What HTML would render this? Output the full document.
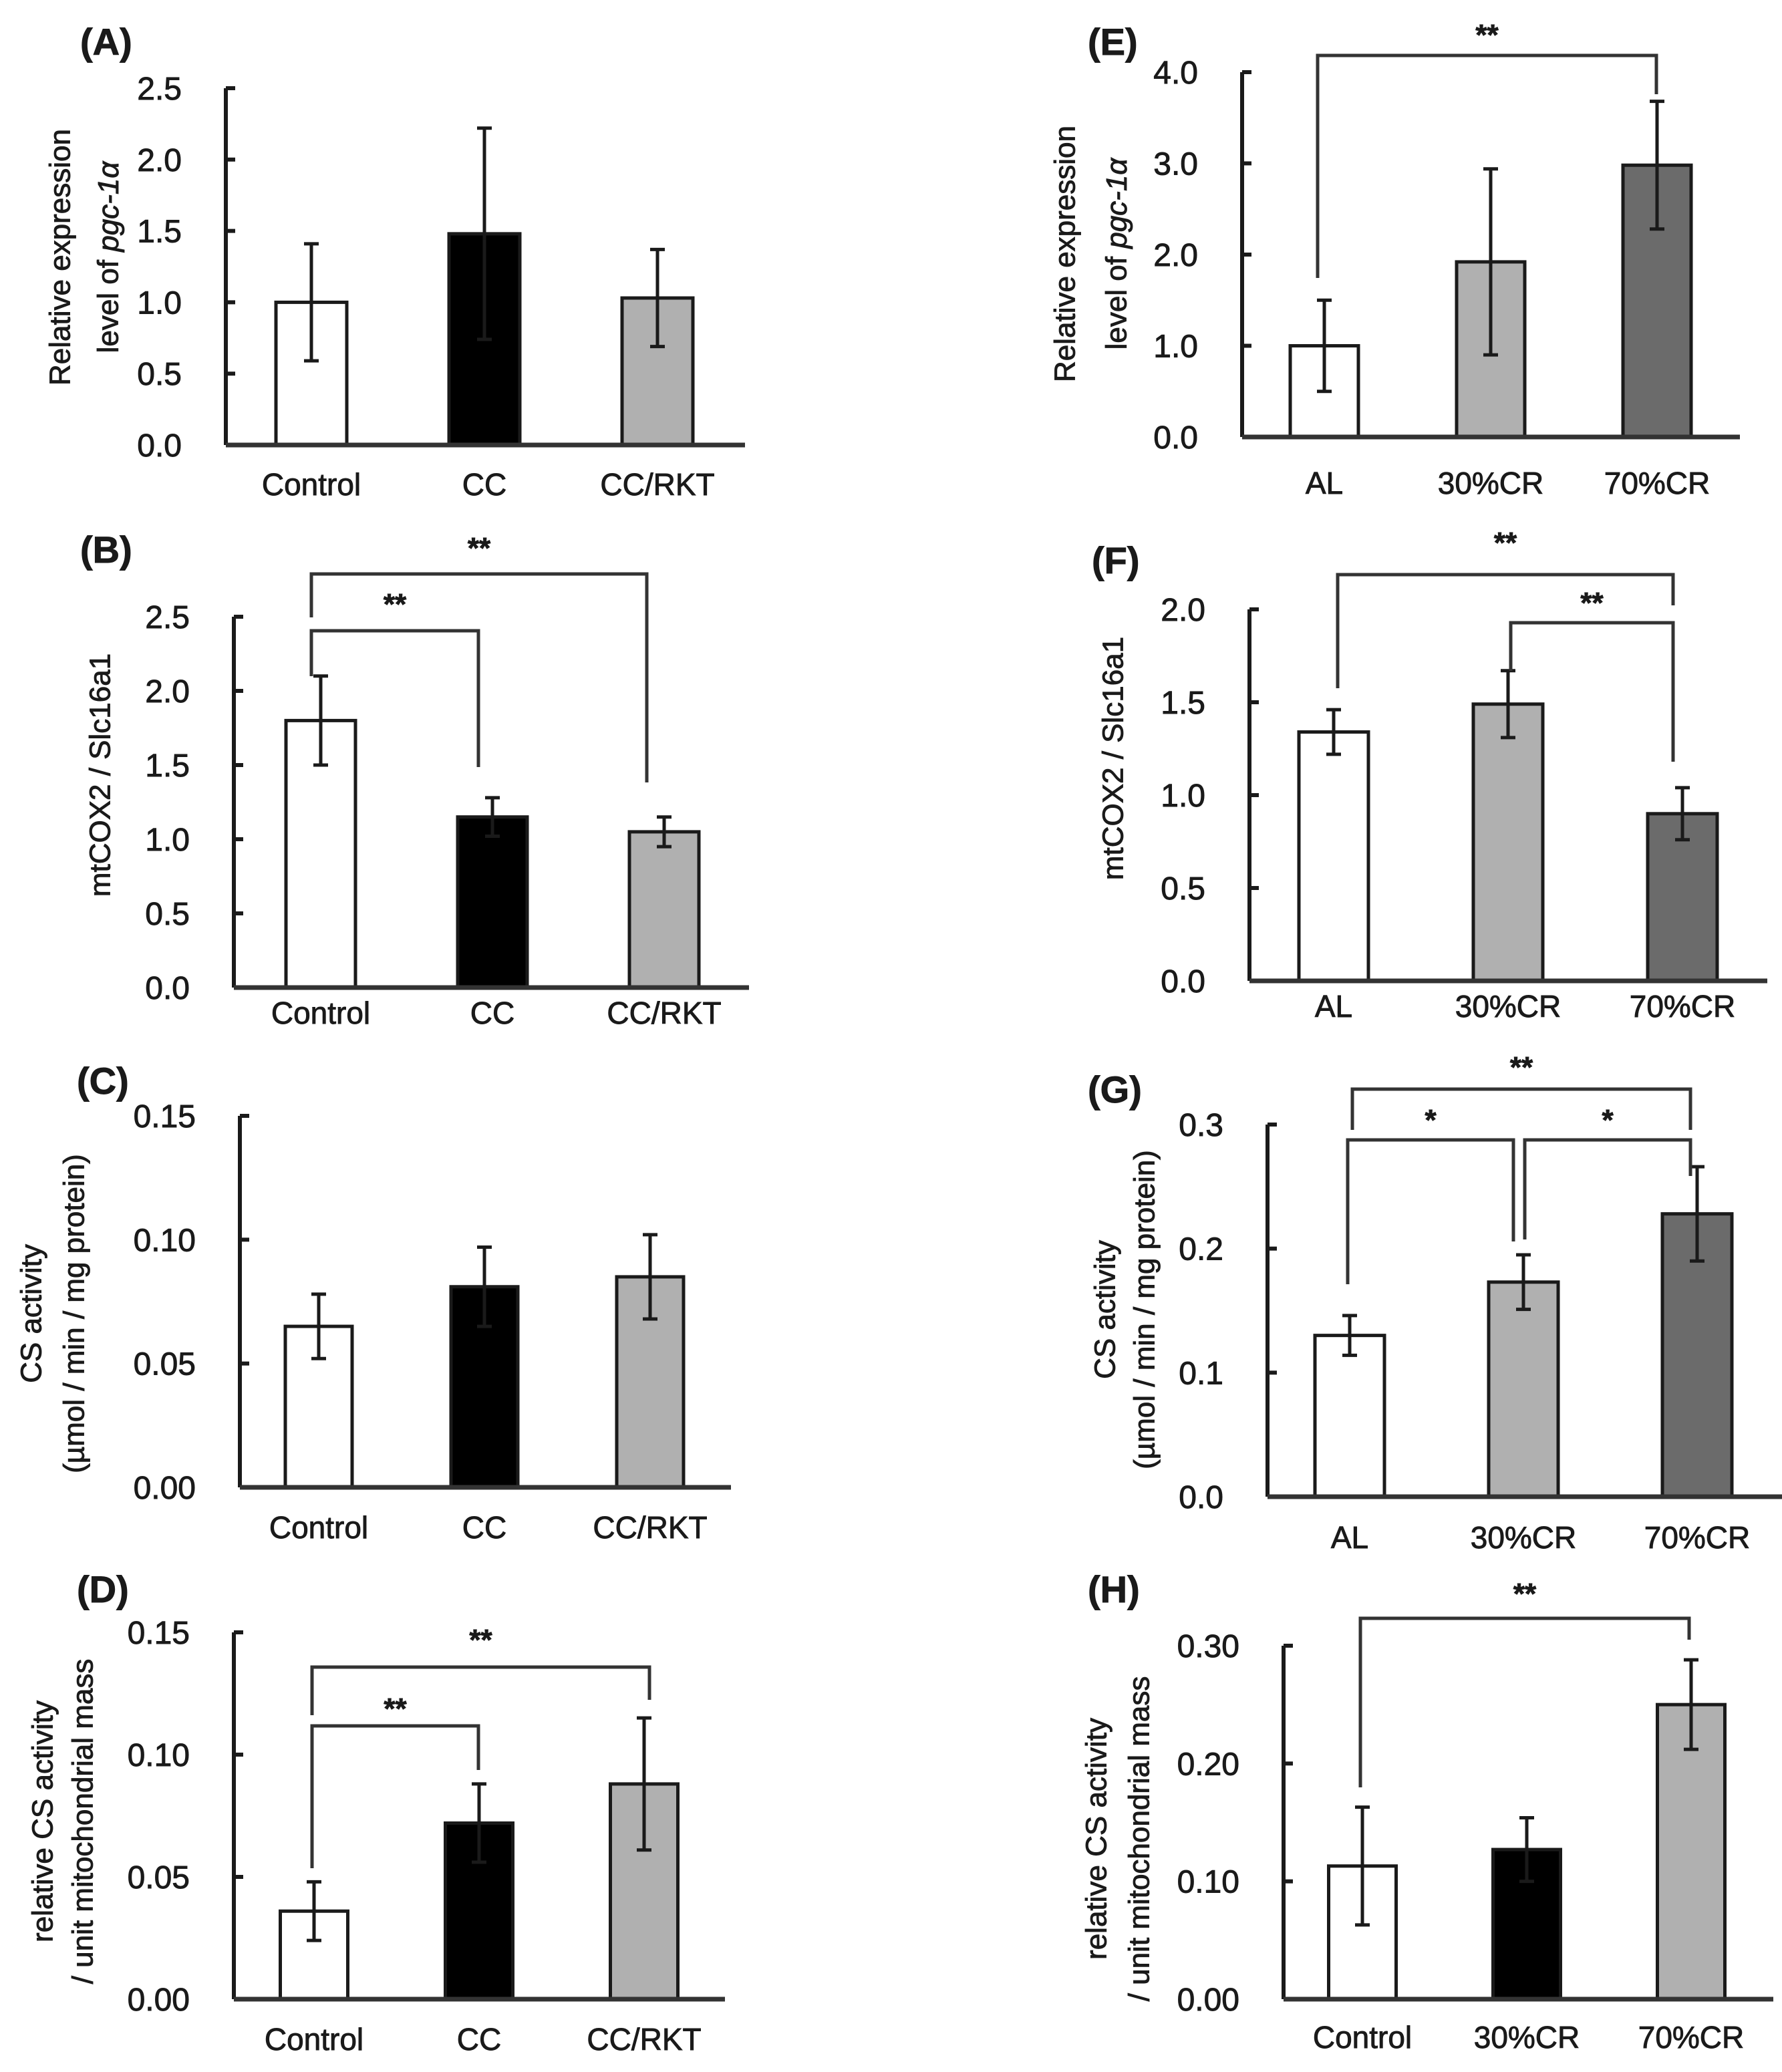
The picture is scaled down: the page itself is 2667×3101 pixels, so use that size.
<!DOCTYPE html>
<html><head><meta charset="utf-8">
<style>
html,body{margin:0;padding:0;background:#fff;}
svg{display:block;}
text{font-family:"Liberation Sans",Arial,sans-serif;fill:#1a1a1a;stroke:#1a1a1a;stroke-width:0.9px;}
</style></head>
<body>
<svg id="fig" width="2667" height="3101" viewBox="0 0 2667 3101" xmlns="http://www.w3.org/2000/svg"></svg>
<script>
// ---- Data ----
const aCats = ["Control","CC","CC/RKT"];
const aMeans = [1.0, 1.48, 1.03];
const aErrs = [0.41, 0.74, 0.34];
const aTicks = ["0.0","0.5","1.0","1.5","2.0","2.5"];
const aTickVals = [0,0.5,1.0,1.5,2.0,2.5];

const bCats = ["Control","CC","CC/RKT"];
const bMeans = [1.8, 1.15, 1.05];
const bErrs = [0.3, 0.13, 0.1];
const bTicks = ["0.0","0.5","1.0","1.5","2.0","2.5"];
const bTickVals = [0,0.5,1.0,1.5,2.0,2.5];

const cCats = ["Control","CC","CC/RKT"];
const cMeans = [0.065, 0.081, 0.085];
const cErrs = [0.013, 0.016, 0.017];
const cTicks = ["0.00","0.05","0.10","0.15"];
const cTickVals = [0,0.05,0.10,0.15];

const dCats = ["Control","CC","CC/RKT"];
const dMeans = [0.036, 0.072, 0.088];
const dErrs = [0.012, 0.016, 0.027];
const dTicks = ["0.00","0.05","0.10","0.15"];
const dTickVals = [0,0.05,0.10,0.15];

const eCats = ["AL","30%CR","70%CR"];
const eMeans = [1.0, 1.92, 2.98];
const eErrs = [0.5, 1.02, 0.7];
const eTicks = ["0.0","1.0","2.0","3.0","4.0"];
const eTickVals = [0,1,2,3,4];

const fCats = ["AL","30%CR","70%CR"];
const fMeans = [1.34, 1.49, 0.9];
const fErrs = [0.12, 0.18, 0.14];
const fTicks = ["0.0","0.5","1.0","1.5","2.0"];
const fTickVals = [0,0.5,1.0,1.5,2.0];

const gCats = ["AL","30%CR","70%CR"];
const gMeans = [0.13, 0.173, 0.228];
const gErrs = [0.016, 0.022, 0.038];
const gTicks = ["0.0","0.1","0.2","0.3"];
const gTickVals = [0,0.1,0.2,0.3];

const hCats = ["Control","30%CR","70%CR"];
const hMeans = [0.113, 0.127, 0.25];
const hErrs = [0.05, 0.027, 0.038];
const hTicks = ["0.00","0.10","0.20","0.30"];
const hTickVals = [0,0.10,0.20,0.30];

// ---- Layout ----
const NS = "http://www.w3.org/2000/svg";
const svg = document.getElementById('fig');
function el(tag, attrs, parent){
  const e = document.createElementNS(NS, tag);
  for (const k in attrs) e.setAttribute(k, attrs[k]);
  (parent||svg).appendChild(e);
  return e;
}

const panels = [
 {id:'a', letter:'(A)', cats:aCats, means:aMeans, errs:aErrs, ticks:aTicks, tickVals:aTickVals, max:2.5,
  ax:338, y0:666, yTop:132, xEnd:1115, c0:466, step:259, bw:106, fills:['#fff','#000','#b0b0b0'],
  tx:120, ty:82, labY:741, ylab:[{x:90,t:'Relative expression'},{x:162,t:'level of ',it:'pgc-1α'}], ylabY:385,
  brackets:[]},
 {id:'b', letter:'(B)', cats:bCats, means:bMeans, errs:bErrs, ticks:bTicks, tickVals:bTickVals, max:2.5,
  ax:350, y0:1478, yTop:923, xEnd:1121, c0:480, step:257, bw:104, fills:['#fff','#000','#b0b0b0'],
  tx:120, ty:842, labY:1532, ylab:[{x:150,t:'mtCOX2 / Slc16a1'}], ylabY:1160,
  brackets:[{x1:466,x2:968,y:859,d1:924,d2:1171,s:'**',sy:835},{x1:466,x2:716,y:944,d1:1012,d2:1148,s:'**',sy:919}]},
 {id:'c', letter:'(C)', cats:cCats, means:cMeans, errs:cErrs, ticks:cTicks, tickVals:cTickVals, max:0.15,
  ax:359, y0:2226, yTop:1670, xEnd:1094, c0:477, step:248, bw:100, fills:['#fff','#000','#b0b0b0'],
  tx:115, ty:1637, labY:2302, ylab:[{x:47,t:'CS activity'},{x:111,t:'(µmol / min / mg protein)'}], ylabY:1966,
  brackets:[]},
 {id:'d', letter:'(D)', cats:dCats, means:dMeans, errs:dErrs, ticks:dTicks, tickVals:dTickVals, max:0.15,
  ax:350, y0:2992, yTop:2443, xEnd:1085, c0:470, step:247, bw:101, fills:['#fff','#000','#b0b0b0'],
  tx:115, ty:2398, labY:3068, ylab:[{x:64,t:'relative CS activity'},{x:124,t:'/ unit mitochondrial mass'}], ylabY:2726,
  brackets:[{x1:467,x2:972,y:2495,d1:2567,d2:2544,s:'**',sy:2469},{x1:467,x2:716,y:2583,d1:2796,d2:2649,s:'**',sy:2572}]},
 {id:'e', letter:'(E)', cats:eCats, means:eMeans, errs:eErrs, ticks:eTicks, tickVals:eTickVals, max:4.0,
  ax:1859, y0:654, yTop:108, xEnd:2604, c0:1982, step:249, bw:102, fills:['#fff','#b0b0b0','#6b6b6b'],
  tx:1628, ty:82, labY:739, ylab:[{x:1594,t:'Relative expression'},{x:1671,t:'level  of ',it:'pgc-1α'}], ylabY:380,
  brackets:[{x1:1972,x2:2479,y:83,d1:416,d2:141,s:'**',sy:67}]},
 {id:'f', letter:'(F)', cats:fCats, means:fMeans, errs:fErrs, ticks:fTicks, tickVals:fTickVals, max:2.0,
  ax:1870, y0:1468, yTop:912, xEnd:2645, c0:1996, step:261, bw:104, fills:['#fff','#b0b0b0','#6b6b6b'],
  tx:1634, ty:858, labY:1522, ylab:[{x:1666,t:'mtCOX2 / Slc16a1'}], ylabY:1135,
  brackets:[{x1:2002,x2:2504,y:860,d1:1030,d2:906,s:'**',sy:827},{x1:2261,x2:2504,y:932,d1:1004,d2:1140,s:'**',sy:917}]},
 {id:'g', letter:'(G)', cats:gCats, means:gMeans, errs:gErrs, ticks:gTicks, tickVals:gTickVals, max:0.3,
  ax:1897, y0:2240, yTop:1683, xEnd:2667, c0:2020, step:260, bw:104, fills:['#fff','#b0b0b0','#6b6b6b'],
  tx:1628, ty:1650, labY:2317, ylab:[{x:1654,t:'CS activity'},{x:1713,t:'(µmol / min / mg protein)'}], ylabY:1960,
  brackets:[{x1:2024,x2:2530,y:1630,d1:1691,d2:1691,s:'**',sy:1612},
            {x1:2017,x2:2265,y:1706,d1:1922,d2:1858,s:'*',sy:1691},
            {x1:2282,x2:2530,y:1706,d1:1855,d2:1760,s:'*',sy:1691}]},
 {id:'h', letter:'(H)', cats:hCats, means:hMeans, errs:hErrs, ticks:hTicks, tickVals:hTickVals, max:0.30,
  ax:1921, y0:2992, yTop:2463, xEnd:2654, c0:2039, step:246, bw:101, fills:['#fff','#000','#b0b0b0'],
  tx:1628, ty:2398, labY:3065, ylab:[{x:1641,t:'relative CS activity'},{x:1705,t:'/ unit mitochondrial mass'}], ylabY:2752,
  brackets:[{x1:2036,x2:2528,y:2422,d1:2675,d2:2454,s:'**',sy:2400}]}
];

panels.forEach(p => {
  const g = el('g', {});
  
  
  const yS = v => p.y0 - (v / p.max) * (p.y0 - p.yTop);
  const xS = i => p.c0 + i * p.step;

  const title = el('text', {x:p.tx, y:p.ty, 'font-size':56, 'font-weight':'bold'}, g);
  title.textContent = p.letter;
  
  

  p.ylab.forEach((l, k) => {
    const t = el('text', {x:l.x, y:p.ylabY, 'font-size':44, 'text-anchor':'middle',
      transform:'rotate(-90 '+l.x+' '+p.ylabY+')', 'dominant-baseline':'central'}, g);
    
    
    t.appendChild(document.createTextNode(l.t));
    if (l.it){ const s = document.createElementNS(NS,'tspan'); s.setAttribute('font-style','italic'); s.textContent = l.it; t.appendChild(s); }
  });

  p.tickVals.forEach((v, k) => {
    const y = yS(v);
    const tk = el('line', {x1:p.ax, x2:p.ax+14, y1:y, y2:y, stroke:'#1a1a1a', 'stroke-width':6}, g);
    
    
    const tl = el('text', {x:p.ax-66, y:y+17, 'font-size':48, 'text-anchor':'end'}, g);
    tl.textContent = p.ticks[k];
    
    
  });

  p.means.forEach((m, i) => {
    const cx = xS(i), yt = yS(m);
    const r = el('rect', {x:cx-p.bw/2, y:yt, width:p.bw, height:p.y0-yt, fill:p.fills[i], stroke:'#1a1a1a', 'stroke-width':5}, g);
    
    
    const e = p.errs[i];
    const eb = el('path', {d:'M'+cx+' '+yS(m+e)+'V'+yS(m-e)+'M'+(cx-11)+' '+yS(m+e)+'H'+(cx+11)+'M'+(cx-11)+' '+yS(m-e)+'H'+(cx+11),
      stroke:'#1a1a1a', 'stroke-width':5, fill:'none'}, g);
    
    
    const lab = el('text', {x:cx, y:p.labY, 'font-size':46, 'text-anchor':'middle'}, g);
    lab.textContent = p.cats[i];
    
    
  });

  const ya = el('line', {x1:p.ax, x2:p.ax, y1:p.yTop, y2:p.y0, stroke:'#1a1a1a', 'stroke-width':6}, g);
  
  
  const xa = el('line', {x1:p.ax, x2:p.xEnd, y1:p.y0, y2:p.y0, stroke:'#333', 'stroke-width':7}, g);
  
  

  p.brackets.forEach(b => {
    const br = el('path', {d:'M'+b.x1+' '+b.d1+'V'+b.y+'H'+b.x2+'V'+b.d2, stroke:'#333', 'stroke-width':5, fill:'none'}, g);
    
    
    const st = el('text', {x:(b.x1+b.x2)/2, y:b.sy, 'font-size':44, 'font-weight':'bold', 'text-anchor':'middle'}, g);
    st.textContent = b.s;
    
    
  });
});
</script>
</body></html>
